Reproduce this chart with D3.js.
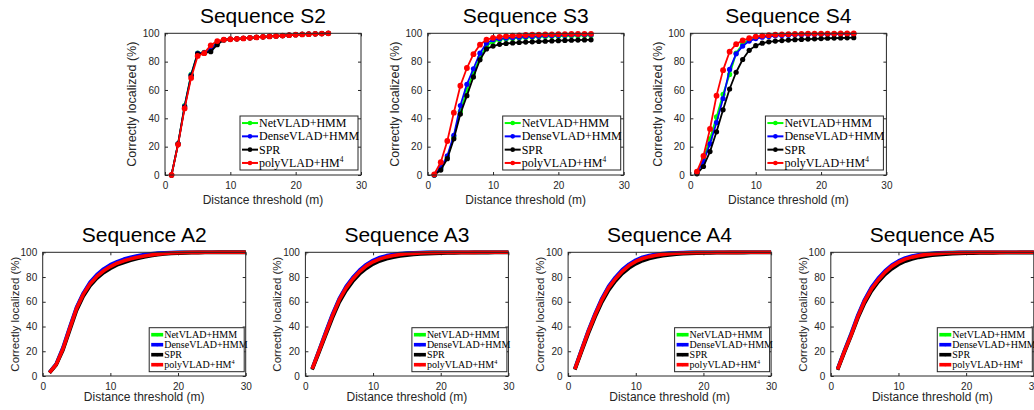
<!DOCTYPE html>
<html>
<head>
<meta charset="utf-8">
<script src="https://cdn.jsdelivr.net/npm/d3@7"></script>
<style>
  body { margin: 0; background: #fff; }
  svg { display: block; }
</style>
</head>
<body>
<svg id="chart" width="1034" height="410"></svg>
<script>
const thresholdsTop = [1, 2, 3, 4, 5, 6, 7, 8, 9, 10, 11, 12, 13, 14, 15, 16, 17, 18, 19, 20, 21, 22, 23, 24, 25]
const thresholdsBottom = [1, 2, 3, 4, 5, 6, 7, 8, 9, 10, 11, 12, 13, 14, 15, 16, 17, 18, 19, 20, 21, 22, 23, 24, 25, 26, 27, 28, 29, 30]
const xTicks = [0, 10, 20, 30]
const yTicks = [0, 20, 40, 60, 80, 100]
const methods = ['NetVLAD+HMM', 'DenseVLAD+HMM', 'SPR', 'polyVLAD+HM']
const titles = ['Sequence S2', 'Sequence S3', 'Sequence S4', 'Sequence A2', 'Sequence A3', 'Sequence A4', 'Sequence A5']

const s2NetVLAD = [0, 22, 49, 71, 86, 86.5, 89, 94, 95.5, 95.9, 96.1, 96.4, 96.8, 97.1, 97.5, 97.8, 98.1, 98.4, 98.7, 99, 99.2, 99.4, 99.6, 99.8, 100]
const s2DenseVLAD = [0, 22, 48.5, 70.5, 85.8, 86.3, 88.5, 93.5, 95.5, 95.9, 96.1, 96.4, 96.8, 97.1, 97.5, 97.8, 98.1, 98.4, 98.7, 99, 99.2, 99.4, 99.6, 99.8, 100]
const s2SPR = [0, 22, 48, 70, 85.5, 86, 87, 92, 95.3, 95.8, 96.1, 96.4, 96.8, 97.1, 97.5, 97.8, 98.1, 98.4, 98.7, 99, 99.2, 99.4, 99.6, 99.8, 100]
const s2PolyVLAD = [0, 21.5, 47, 68.5, 84, 86, 91.5, 94.5, 95.5, 95.8, 96.1, 96.4, 96.8, 97.1, 97.5, 97.8, 98.1, 98.4, 98.7, 99, 99.2, 99.4, 99.6, 99.8, 100]

const s3NetVLAD = [0, 5, 12.5, 27, 45, 60, 72, 83, 91, 94.2, 95.5, 96, 96.4, 96.7, 97, 97.3, 97.5, 97.7, 97.9, 98, 98.1, 98.2, 98.3, 98.4, 98.5]
const s3DenseVLAD = [0, 5, 13.5, 28, 49, 64, 75, 86, 93, 95.5, 96.2, 96.6, 97, 97.3, 97.6, 97.8, 98, 98.2, 98.4, 98.6, 98.7, 98.8, 98.9, 99, 99]
const s3SPR = [0, 3.5, 11.5, 25.5, 43, 56, 69.2, 81.3, 89, 91, 92.2, 92.8, 93.2, 93.5, 93.8, 94, 94.2, 94.4, 94.6, 94.8, 95, 95.1, 95.2, 95.3, 95.4]
const s3PolyVLAD = [0.5, 9, 24, 44, 63, 75.5, 85.3, 92, 95.5, 96.8, 97.5, 98, 98.3, 98.6, 98.8, 99, 99.1, 99.2, 99.3, 99.4, 99.4, 99.5, 99.5, 99.6, 99.6]

const s4NetVLAD = [2, 11, 25.5, 41, 57, 71, 86, 92.5, 95.5, 97, 97.8, 98.3, 98.6, 98.9, 99.1, 99.2, 99.3, 99.4, 99.5, 99.5, 99.6, 99.6, 99.7, 99.7, 99.7]
const s4DenseVLAD = [1.5, 9.5, 22, 37, 54, 74.5, 85.5, 91, 94.5, 96.3, 97.2, 97.8, 98.2, 98.5, 98.7, 98.9, 99, 99.1, 99.2, 99.3, 99.3, 99.4, 99.4, 99.5, 99.5]
const s4SPR = [0.8, 6, 16.5, 30.5, 46, 60.7, 72.5, 81.5, 88, 91.3, 93, 94, 94.5, 94.9, 95.2, 95.5, 95.7, 95.9, 96.1, 96.3, 96.5, 96.6, 96.7, 96.8, 96.9]
const s4PolyVLAD = [2.4, 13.4, 32.5, 56, 74, 87, 92.3, 95, 96.5, 97.7, 98.3, 98.7, 99, 99.2, 99.4, 99.5, 99.6, 99.7, 99.7, 99.8, 99.8, 99.8, 99.9, 99.9, 99.9]

const a2NetVLAD = [2.9, 9.6, 22.5, 39, 55, 66.5, 75, 81.2, 85.7, 89.2, 91.8, 93.8, 95.3, 96.6, 97.6, 98.3, 98.9, 99.3, 99.6, 99.8, 99.9, 100, 100, 100, 100, 100, 100, 100, 100, 100]
const a2DenseVLAD = [3, 9.8, 23, 39.5, 55.5, 67, 75.8, 82, 86.5, 90, 92.5, 94.5, 96, 97.2, 98.1, 98.8, 99.3, 99.6, 99.8, 99.9, 100, 100, 100, 100, 100, 100, 100, 100, 100, 100]
const a2SPR = [2.5, 9, 21, 37, 53, 64.5, 73, 79, 83.5, 87, 89.8, 91.8, 93.5, 95, 96.2, 97.2, 98, 98.6, 99, 99.3, 99.5, 99.6, 99.7, 99.8, 99.8, 99.9, 99.9, 99.9, 99.9, 99.9]
const a2PolyVLAD = [2.8, 9.4, 22, 38.5, 54.5, 66, 74.5, 80.5, 85, 88.5, 91.2, 93.1, 94.7, 96, 97, 97.8, 98.5, 99, 99.4, 99.6, 99.8, 99.9, 99.9, 100, 100, 100, 100, 100, 100, 100]

const a3NetVLAD = [5.8, 20.2, 35, 49.3, 62, 71.6, 79, 85, 89.6, 92.9, 95.3, 96.8, 97.9, 98.6, 99.1, 99.4, 99.6, 99.8, 99.9, 99.9, 100, 100, 100, 100, 100, 100, 100, 100, 100, 100]
const a3DenseVLAD = [6, 20.5, 35.5, 50, 62.5, 72.2, 79.6, 85.6, 90.2, 93.5, 95.8, 97.3, 98.3, 99, 99.4, 99.6, 99.8, 99.9, 99.9, 100, 100, 100, 100, 100, 100, 100, 100, 100, 100, 100]
const a3SPR = [5.2, 19, 33, 47, 59.5, 69, 76.5, 82.5, 87, 90.5, 93, 94.8, 96.1, 97, 97.7, 98.2, 98.6, 98.9, 99.1, 99.3, 99.4, 99.5, 99.6, 99.6, 99.7, 99.7, 99.7, 99.8, 99.8, 99.8]
const a3PolyVLAD = [5.7, 20, 34.5, 48.8, 61.5, 71, 78.4, 84.4, 89, 92.3, 94.7, 96.3, 97.4, 98.2, 98.8, 99.1, 99.4, 99.6, 99.7, 99.8, 99.8, 99.9, 99.9, 99.9, 99.9, 100, 100, 100, 100, 100]

const a4NetVLAD = [5.7, 21.2, 36.4, 50, 62.2, 72, 79.2, 85.2, 89.8, 93, 95.4, 96.9, 97.9, 98.6, 99.1, 99.4, 99.6, 99.8, 99.9, 99.9, 100, 100, 100, 100, 100, 100, 100, 100, 100, 100]
const a4DenseVLAD = [5.9, 21.5, 36.8, 50.5, 62.8, 72.6, 79.9, 85.9, 90.4, 93.7, 96, 97.4, 98.4, 99, 99.4, 99.6, 99.8, 99.9, 99.9, 100, 100, 100, 100, 100, 100, 100, 100, 100, 100, 100]
const a4SPR = [5.2, 20, 34.5, 47.8, 59.8, 69.4, 76.8, 82.8, 87.3, 90.7, 93.2, 95, 96.3, 97.2, 97.9, 98.4, 98.8, 99.1, 99.3, 99.4, 99.5, 99.6, 99.6, 99.7, 99.7, 99.7, 99.8, 99.8, 99.8, 99.8]
const a4PolyVLAD = [5.6, 21, 36, 49.5, 61.6, 71.4, 78.6, 84.6, 89.3, 92.6, 95, 96.5, 97.6, 98.3, 98.8, 99.2, 99.4, 99.6, 99.7, 99.8, 99.8, 99.9, 99.9, 99.9, 99.9, 100, 100, 100, 100, 100]

const a5NetVLAD = [5.5, 20, 33.8, 48.5, 61.2, 71, 78.3, 84.3, 89, 92.4, 94.9, 96.5, 97.6, 98.4, 98.9, 99.3, 99.5, 99.7, 99.8, 99.9, 100, 100, 100, 100, 100, 100, 100, 100, 100, 100]
const a5DenseVLAD = [5.7, 20.4, 34.3, 49.2, 61.8, 71.6, 79, 85, 89.7, 93, 95.4, 97, 98, 98.7, 99.2, 99.5, 99.7, 99.8, 99.9, 100, 100, 100, 100, 100, 100, 100, 100, 100, 100, 100]
const a5SPR = [5, 19, 32.5, 46.8, 59, 68.6, 76, 82, 86.6, 90.2, 92.8, 94.6, 95.9, 96.9, 97.6, 98.1, 98.5, 98.8, 99, 99.2, 99.3, 99.4, 99.5, 99.5, 99.6, 99.6, 99.6, 99.7, 99.7, 99.7]
const a5PolyVLAD = [5.4, 19.7, 33, 48, 60.6, 70.3, 77.6, 83.8, 88.6, 92, 94.5, 96.1, 97.3, 98.1, 98.7, 99.1, 99.4, 99.6, 99.7, 99.8, 99.8, 99.9, 99.9, 99.9, 99.9, 100, 100, 100, 100, 100]

const colors = ['#00ff00', '#0000ff', '#000000', '#ff0000']
const sans = "'Liberation Sans', Arial, sans-serif"
const serif = "'Liberation Serif', 'Times New Roman', serif"

// layout of each row (pixels)
const topRow = { top: 33.3, height: 141.7, width: 196, lefts: [165, 427.7, 690.4], titleY: 23.3, xLabelY: 203.6, yLabelOff: 33,
    lineW: 1.8, r: 2.6, legend: { w: 118, h: 54, right: 3, bottom: 5, font: 12, row: 13.3, sample: 16 } }
const bottomRow = { top: 252.3, height: 123.7, width: 203, lefts: [42.7, 305.4, 568.1, 830.8], titleY: 241.7, xLabelY: 400.7, yLabelOff: 28,
    lineW: 3.6, r: 0, legend: { w: 95, h: 44, right: 1.5, bottom: 4.3, font: 10, row: 10, sample: 12 } }

const panels = [
    { row: topRow, col: 0, x: thresholdsTop, series: [s2NetVLAD, s2DenseVLAD, s2SPR, s2PolyVLAD] },
    { row: topRow, col: 1, x: thresholdsTop, series: [s3NetVLAD, s3DenseVLAD, s3SPR, s3PolyVLAD] },
    { row: topRow, col: 2, x: thresholdsTop, series: [s4NetVLAD, s4DenseVLAD, s4SPR, s4PolyVLAD] },
    { row: bottomRow, col: 0, x: thresholdsBottom, series: [a2NetVLAD, a2DenseVLAD, a2SPR, a2PolyVLAD] },
    { row: bottomRow, col: 1, x: thresholdsBottom, series: [a3NetVLAD, a3DenseVLAD, a3SPR, a3PolyVLAD] },
    { row: bottomRow, col: 2, x: thresholdsBottom, series: [a4NetVLAD, a4DenseVLAD, a4SPR, a4PolyVLAD] },
    { row: bottomRow, col: 3, x: thresholdsBottom, series: [a5NetVLAD, a5DenseVLAD, a5SPR, a5PolyVLAD] }
]

const svg = d3.select('#chart')

panels.forEach((p, i) => {
    const row = p.row
    const left = row.lefts[p.col]
    const g = svg.append('g').attr('transform', `translate(${left},${row.top})`)
    const xScale = d3.scaleLinear().domain([0, 30]).range([0, row.width])
    const yScale = d3.scaleLinear().domain([0, 100]).range([row.height, 0])

    g.append('rect').attr('width', row.width).attr('height', row.height).attr('fill', '#fff')

    // axes with inward ticks, mirrored on top/right
    const styleAxis = sel => {
        sel.selectAll('.domain').remove()
        sel.selectAll('line').attr('stroke', '#262626')
        sel.selectAll('text').attr('font-family', sans).attr('font-size', 10).attr('fill', '#262626')
    }
    g.append('g').attr('transform', `translate(0,${row.height})`)
        .call(d3.axisBottom(xScale).tickValues(xTicks).tickSizeInner(-3).tickSizeOuter(0).tickPadding(6.5))
        .call(styleAxis)
    g.append('g').call(d3.axisTop(xScale).tickValues(xTicks).tickSizeInner(-3).tickSizeOuter(0).tickFormat(''))
        .call(styleAxis)
    g.append('g').call(d3.axisLeft(yScale).tickValues(yTicks).tickSizeInner(-3).tickSizeOuter(0).tickPadding(5.5))
        .call(styleAxis)
    g.append('g').attr('transform', `translate(${row.width},0)`)
        .call(d3.axisRight(yScale).tickValues(yTicks).tickSizeInner(-3).tickSizeOuter(0).tickFormat(''))
        .call(styleAxis)

    const line = d3.line().x((d, j) => xScale(p.x[j])).y(d => yScale(d))
    p.series.forEach((vals, k) => {
        g.append('path').datum(vals).attr('d', line)
            .attr('fill', 'none').attr('stroke', colors[k]).attr('stroke-width', row.lineW)
            .attr('stroke-linejoin', 'round')
        if (row.r > 0) {
            g.selectAll(`.m${k}`).data(vals).enter().append('circle').attr('class', `m${k}`)
                .attr('cx', (d, j) => xScale(p.x[j])).attr('cy', d => yScale(d))
                .attr('r', k === 3 ? row.r + 0.3 : row.r).attr('fill', colors[k])
        }
    })

    g.append('rect').attr('width', row.width).attr('height', row.height)
        .attr('fill', 'none').attr('stroke', '#262626').attr('stroke-width', 1)

    // legend
    const L = row.legend
    const lg = g.append('g').attr('transform', `translate(${row.width - L.right - L.w},${row.height - L.bottom - L.h})`)
    lg.append('rect').attr('width', L.w).attr('height', L.h).attr('fill', '#fff').attr('stroke', '#262626').attr('stroke-width', 1)
    methods.forEach((m, k) => {
        const cy = L.h / 2 + (k - 1.5) * L.row
        lg.append('line').attr('x1', 2).attr('x2', 2 + L.sample).attr('y1', cy).attr('y2', cy)
            .attr('stroke', colors[k]).attr('stroke-width', row.r > 0 ? 2 : 3.6)
        lg.append('circle').attr('cx', 2 + L.sample / 2).attr('cy', cy).attr('r', row.r > 0 ? 2.3 : 1.6).attr('fill', colors[k])
        const t = lg.append('text').attr('x', 3 + L.sample).attr('y', cy).attr('dy', '0.34em')
            .attr('font-family', serif).attr('font-size', L.font).attr('fill', '#000').text(m)
        if (k === 3) t.append('tspan').attr('font-size', L.font * 0.62).attr('dy', -L.font * 0.38).text('4')
    })

    svg.append('text').attr('x', left + row.width / 2).attr('y', row.titleY).attr('text-anchor', 'middle')
        .attr('font-family', sans).attr('font-size', 21).attr('fill', '#000').text(titles[i])
    svg.append('text').attr('x', left + row.width / 2).attr('y', row.xLabelY).attr('text-anchor', 'middle')
        .attr('font-family', sans).attr('font-size', 12).attr('fill', '#262626').text('Distance threshold (m)')
    svg.append('text').attr('transform', `translate(${left - row.yLabelOff},${row.top + row.height / 2}) rotate(-90)`)
        .attr('text-anchor', 'middle').attr('dy', '0.35em')
        .attr('font-family', sans).attr('font-size', p.row === topRow ? 12.5 : 11.5).attr('fill', '#262626').text('Correctly localized (%)')
})
</script>
</body>
</html>
